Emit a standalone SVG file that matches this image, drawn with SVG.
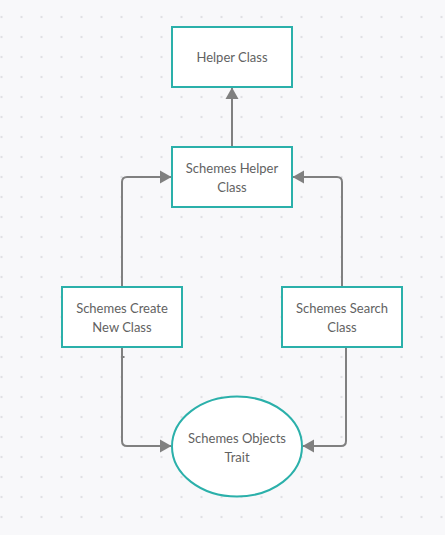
<svg xmlns="http://www.w3.org/2000/svg" width="445" height="535" viewBox="0 0 445 535">
  <defs>
    <pattern id="dots" x="-8.5" y="7" width="20" height="20" patternUnits="userSpaceOnUse">
      <circle cx="10" cy="10" r="1.2" fill="#e0e0e4"/>
    </pattern>
    <marker id="arrow" markerUnits="userSpaceOnUse" markerWidth="12" markerHeight="14" viewBox="0 0 12 14" refX="11" refY="7" orient="auto">
      <path d="M0,0.5 L11.5,7 L0,13.5 Z" fill="#808080"/>
    </marker>
    <style>
      .node { fill: #ffffff; stroke: #2bb0aa; stroke-width: 2; }
      .label { font-family: Lato, "Liberation Sans", sans-serif; font-size: 13px; fill: #626262; text-anchor: middle; }
      .conn { fill: none; stroke: #808080; stroke-width: 2; }
    </style>
  </defs>
  <rect x="0" y="0" width="445" height="535" fill="#f8f8fa"/>
  <rect x="0" y="0" width="445" height="535" fill="url(#dots)"/>

  <g id="connectors">
    <path class="conn" d="M232,147 L232,88" marker-end="url(#arrow)"/>
    <path class="conn" d="M122,287 L122,182 Q122,177 127,177 L171,177" marker-end="url(#arrow)"/>
    <path class="conn" d="M342,287 L342,182 Q342,177 337,177 L293,177" marker-end="url(#arrow)"/>
    <path class="conn" d="M122,347 L122,441 Q122,446 127,446 L171,446" marker-end="url(#arrow)"/>
    <path class="conn" d="M346,347 L346,441 Q346,446 341,446 L303,446" marker-end="url(#arrow)"/>
    <path class="conn" d="M123,357 L124.5,357" stroke-width="1.5"/>
  </g>

  <g id="helper-class">
    <rect class="node" x="172" y="27" width="120" height="60"/>
    <text class="label" x="232" y="62">Helper Class</text>
  </g>

  <g id="schemes-helper-class">
    <rect class="node" x="172" y="147" width="120" height="60"/>
    <text class="label" x="232" y="173">Schemes Helper</text>
    <text class="label" x="232" y="192">Class</text>
  </g>

  <g id="schemes-create-new-class">
    <rect class="node" x="62" y="287" width="120" height="60"/>
    <text class="label" x="122" y="313">Schemes Create</text>
    <text class="label" x="122" y="332">New Class</text>
  </g>

  <g id="schemes-search-class">
    <rect class="node" x="282" y="287" width="120" height="60"/>
    <text class="label" x="342" y="313">Schemes Search</text>
    <text class="label" x="342" y="332">Class</text>
  </g>

  <g id="schemes-objects-trait">
    <ellipse class="node" cx="237" cy="446.5" rx="65" ry="50"/>
    <text class="label" x="237" y="443">Schemes Objects</text>
    <text class="label" x="237" y="462">Trait</text>
  </g>
</svg>
